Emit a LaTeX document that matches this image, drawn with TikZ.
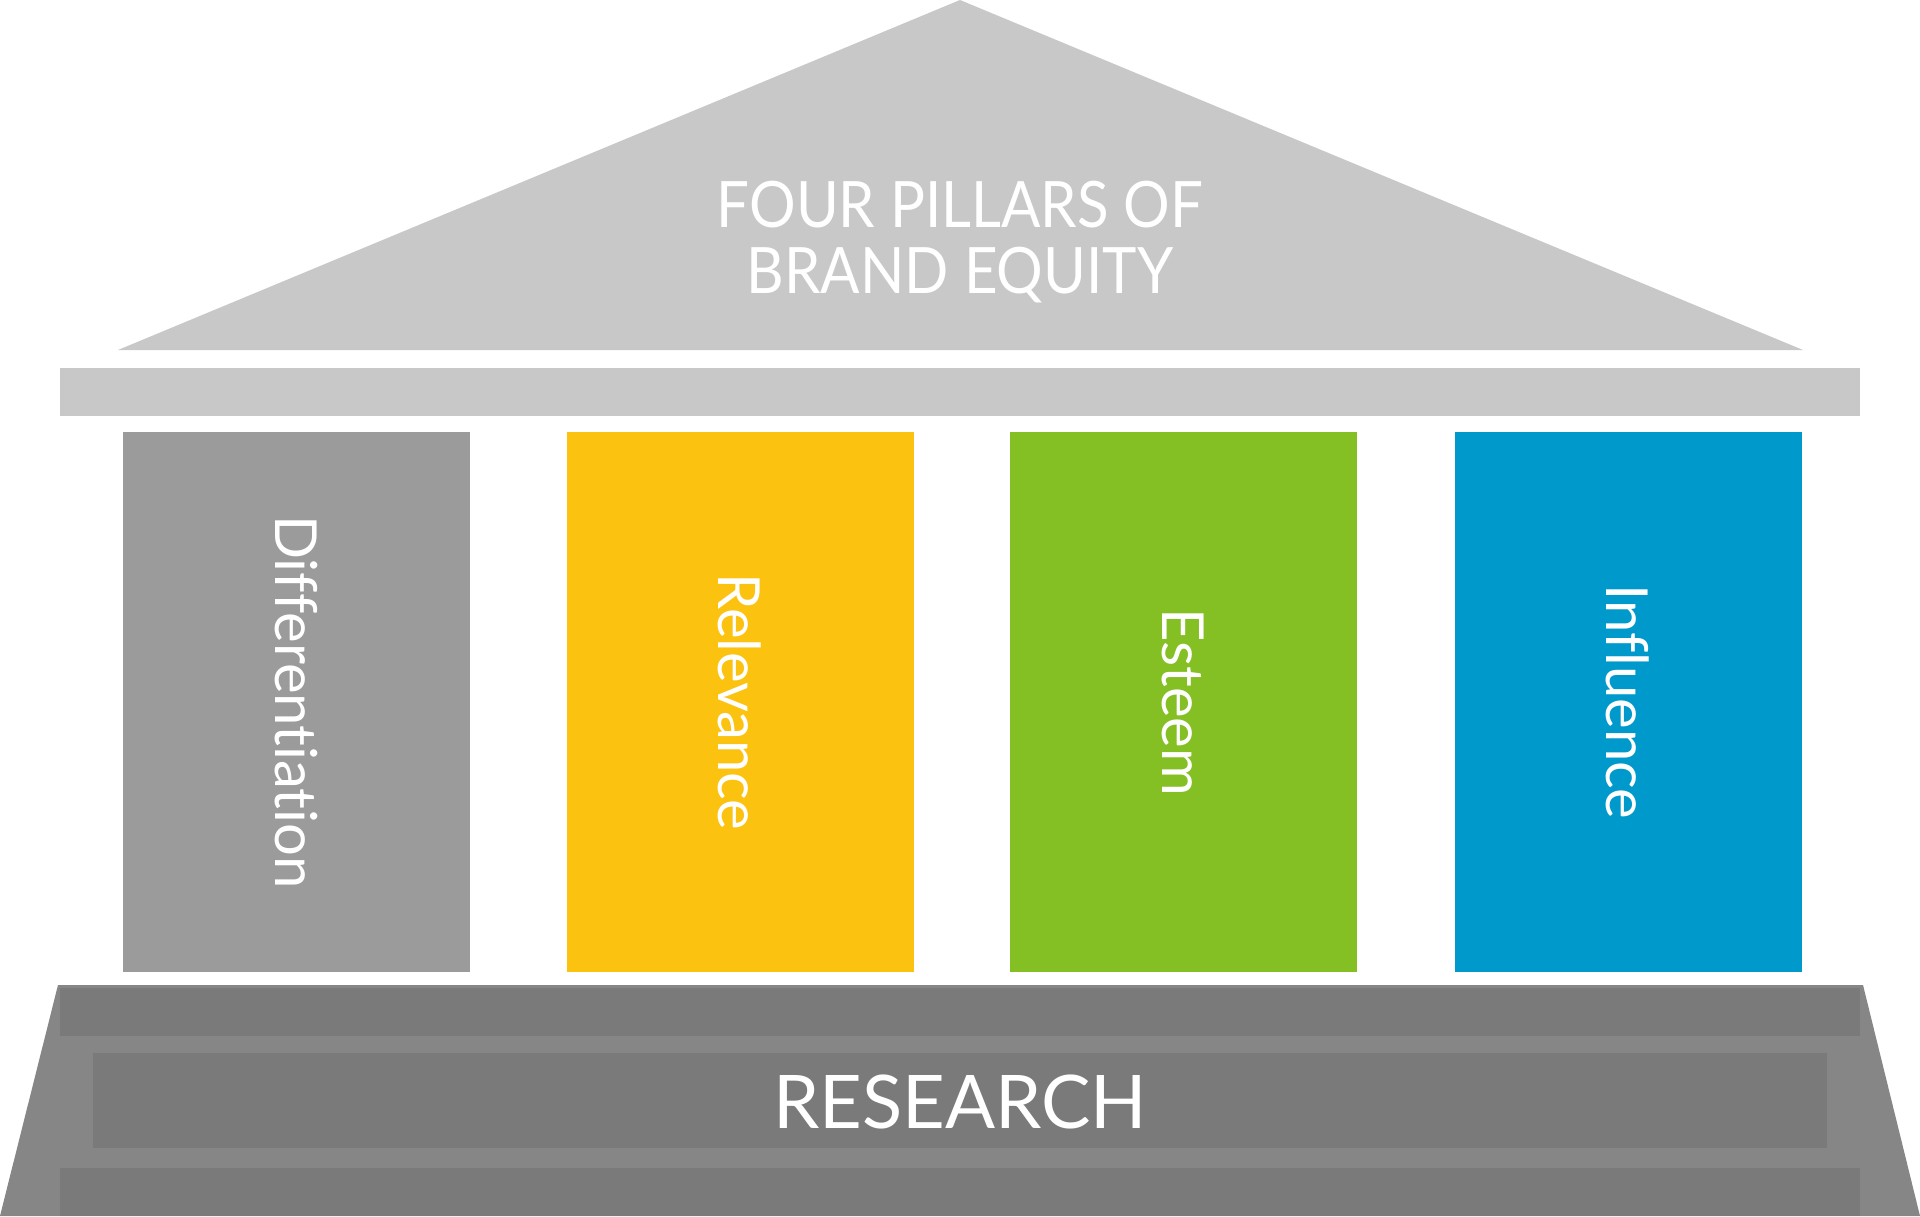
\documentclass[tikz,border=0pt]{standalone}
\usepackage{fontspec}
\newfontfamily\labfont[Ligatures={NoCommon,NoContextual}]{Lato}
\newfontfamily\titlefont[FakeStretch=0.91,Ligatures={NoCommon,NoContextual}]{Lato}
\definecolor{roofgray}{HTML}{C8C8C8}
\definecolor{pilgray}{HTML}{9B9B9B}
\definecolor{pilyellow}{HTML}{FCC210}
\definecolor{pilgreen}{HTML}{84C023}
\definecolor{pilblue}{HTML}{0099CC}
\definecolor{baselight}{HTML}{868686}
\definecolor{basedark}{HTML}{7A7A7A}
\tikzset{
  pillar/.style={draw=none, inner sep=0pt, minimum width=347pt, minimum height=540pt},
  plabel/.style={text=white, rotate=-90, inner sep=0pt, font=\labfont\fontsize{58}{60}\selectfont},
  ttl/.style={text=white, inner sep=0pt, anchor=base, font=\titlefont\fontsize{64}{65}\selectfont},
  rsch/.style={text=white, inner sep=0pt, anchor=base, font=\labfont\fontsize{74}{76}\selectfont},
}
\begin{document}
\begin{tikzpicture}[x=1pt,y=-1pt]
\useasboundingbox (0,0) rectangle (1920,1216);
\fill[white] (0,0) rectangle (1920,1216);
% roof
\fill[roofgray] (118,350) -- (960,0) -- (1803,350) -- cycle;
% beam
\fill[roofgray] (60,368) rectangle (1860,416);
% base
\fill[baselight] (58,985) -- (1863,985) -- (1920,1216) -- (0,1216) -- cycle;
\fill[basedark] (60,988) rectangle (1860,1036);
\fill[basedark] (93,1053) rectangle (1827,1148);
\fill[basedark] (60,1168) rectangle (1860,1216);
% pillars
\node[pillar, fill=pilgray]   (p1) at (296,702) {};
\node[pillar, fill=pilyellow] (p2) at (740,702) {};
\node[pillar, fill=pilgreen]  (p3) at (1183.5,702) {};
\node[pillar, fill=pilblue]   (p4) at (1628,702) {};
\node[plabel] (l1) at (p1.center) {Differentiation};
\node[plabel] (l2) at (p2.center) {Relevance};
\node[plabel] (l3) at (p3.center) {Esteem};
\node[plabel] (l4) at (p4.center) {Influence};
% texts
\node[ttl] (t1) at (960,227) {FOUR PILLARS OF};
\node[ttl] (t2) at (960,293) {BRAND EQUITY};
\node[rsch] (r) at (960,1128) {RESEARCH};
\end{tikzpicture}
\end{document}
